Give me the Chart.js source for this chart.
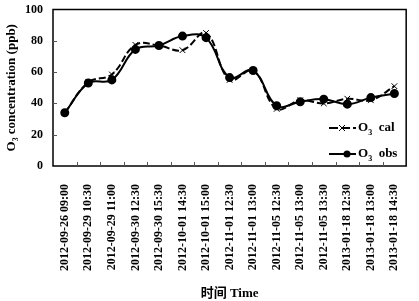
<!DOCTYPE html>
<html>
<head>
<meta charset="utf-8">
<script src="https://cdn.jsdelivr.net/npm/chart.js@4/dist/chart.umd.min.js"></script>
<style>
body { margin: 0; background: #fff; }
#wrap { position: relative; width: 419px; height: 301px; }
canvas { display: block; }
#legend { position: absolute; left: 329px; top: 115px; font: bold 13px "Liberation Serif", serif; color: #000; }
#legend .row { height: 26px; display: flex; align-items: center; white-space: nowrap; }
#legend svg { margin-right: 2px; }
#legend sub { font-size: 8px; }
</style>
</head>
<body>
<div id="wrap">
  <canvas id="ozoneChart" width="419" height="301"></canvas>
  <div id="legend">
    <div class="row">
      <svg width="27" height="10"><line x1="0" y1="5" x2="27" y2="5" stroke="#000" stroke-width="2" stroke-dasharray="9,3"/><path d="M10 2 L16 8 M16 2 L10 8" stroke="#000" stroke-width="1"/></svg>
      <span>O<sub>3</sub>&nbsp; cal</span>
    </div>
    <div class="row">
      <svg width="27" height="10"><line x1="0" y1="5" x2="27" y2="5" stroke="#000" stroke-width="2"/><circle cx="18" cy="5" r="3.5" fill="#000"/></svg>
      <span>O<sub>3</sub>&nbsp; obs</span>
    </div>
  </div>
</div>
<script>
// Sampling times
const times = [
    '2012-09-26 09:00', '2012-09-29 10:30', '2012-09-29 11:00', '2012-09-30 12:30',
    '2012-09-30 15:30', '2012-10-01 14:30', '2012-10-01 15:00', '2012-11-01 12:30',
    '2012-11-01 13:00', '2012-11-05 12:30', '2012-11-05 13:00', '2012-11-05 13:30',
    '2013-01-18 12:30', '2013-01-18 13:00', '2013-01-18 14:30'
];

// O3 calculated and observed (ppb)
const o3Cal = [34, 53.5, 58.5, 77.4, 77, 74, 85, 55, 61, 36.5, 42, 40, 43, 42, 51];
const o3Obs = [34, 53, 55, 74.5, 77, 83, 82, 56.5, 61, 38.5, 41, 42.7, 39.5, 43.7, 46.3];

// Y axis ticks
const yTicks = [0, 20, 40, 60, 80, 100];

const serif = '"Liberation Serif", "Noto Sans CJK SC", serif';

// Box around the plot area and small inward ticks on both axes
const frame = {
    id: 'frame',
    afterDraw(chart) {
        const c = chart.ctx, a = chart.chartArea, x = chart.scales.x, y = chart.scales.y;
        c.save();
        c.strokeStyle = '#000';
        c.lineWidth = 1.5;
        c.strokeRect(a.left, a.top, a.right - a.left, a.bottom - a.top);
        c.lineWidth = 1;
        c.strokeStyle = '#555';
        for (let i = 1; i < times.length; i++) {
            const px = Math.round((x.getPixelForTick(i - 1) + x.getPixelForTick(i)) / 2) + 0.5;
            c.beginPath();
            c.moveTo(px, a.bottom);
            c.lineTo(px, a.bottom - 4);
            c.stroke();
        }
        yTicks.slice(1, -1).forEach(v => {
            const py = Math.round(y.getPixelForValue(v)) + 0.5;
            c.beginPath();
            c.moveTo(a.left, py);
            c.lineTo(a.left + 4, py);
            c.stroke();
        });
        c.restore();
    }
};

const ctx = document.getElementById('ozoneChart').getContext('2d');
new Chart(ctx, {
    type: 'line',
    data: {
        labels: times,
        datasets: [{
            label: 'O3 cal',
            data: o3Cal,
            borderColor: '#000',
            borderWidth: 2,
            borderDash: [7, 3],
            tension: 0.4,
            pointStyle: 'crossRot',
            pointRadius: 4,
            pointBorderWidth: 1,
            pointBorderColor: '#000',
            order: 2
        }, {
            label: 'O3 obs',
            data: o3Obs,
            borderColor: '#000',
            backgroundColor: '#000',
            borderWidth: 2,
            tension: 0.4,
            pointStyle: 'circle',
            pointRadius: 3.5,
            pointBackgroundColor: '#000',
            pointBorderColor: '#000',
            order: 1
        }]
    },
    options: {
        responsive: false,
        animation: false,
        layout: { padding: { top: 9.5, right: 5, left: 0, bottom: 0 } },
        scales: {
            x: {
                offset: true,
                grid: { display: false },
                border: { display: false },
                ticks: {
                    autoSkip: false,
                    minRotation: 90,
                    maxRotation: 90,
                    padding: 10,
                    color: '#000',
                    font: { family: serif, size: 12, weight: 'bold' }
                },
                title: {
                    display: true,
                    text: '时间 Time',
                    color: '#000',
                    padding: { top: 14, bottom: 0 },
                    font: { family: serif, size: 13, weight: 'bold' }
                },
                afterFit(scale) { scale.height = 135; }
            },
            y: {
                min: 0,
                max: 100,
                afterBuildTicks(scale) { scale.ticks = yTicks.map(v => ({ value: v })); },
                // invisible tick marks just keep the labels clear of the axis
                grid: { drawOnChartArea: false, tickLength: 10, color: 'rgba(0,0,0,0)' },
                border: { display: false },
                ticks: {
                    padding: 0,
                    color: '#000',
                    font: { family: serif, size: 12, weight: 'bold' }
                },
                title: {
                    display: true,
                    text: 'O₃ concentration (ppb)',
                    color: '#000',
                    padding: { top: 4, bottom: 2 },
                    font: { family: serif, size: 13, weight: 'bold' }
                },
                afterFit(scale) { scale.width = 53; }
            }
        },
        plugins: {
            legend: { display: false },
            tooltip: { enabled: false }
        }
    },
    plugins: [frame]
});
</script>
</body>
</html>
